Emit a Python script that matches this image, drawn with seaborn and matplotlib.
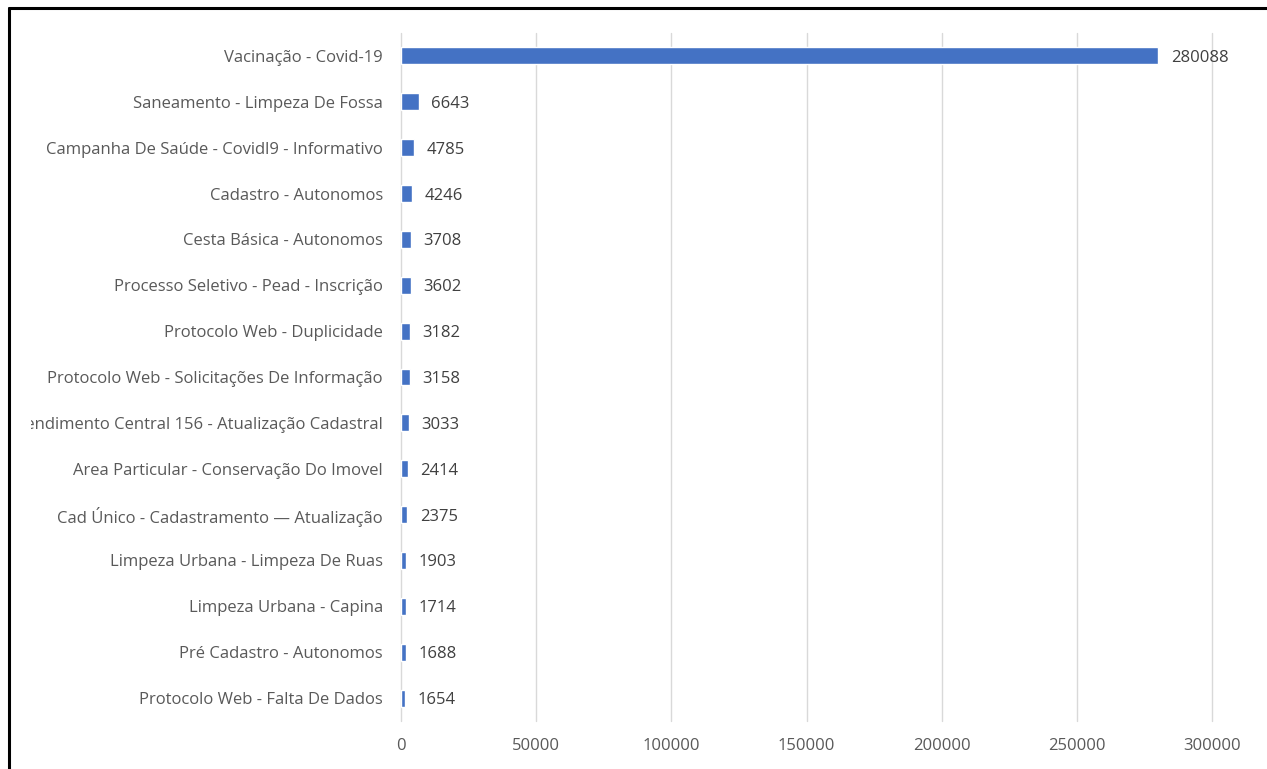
import numpy as np
import pandas as pd
import matplotlib.pyplot as plt
import seaborn as sns
from matplotlib.transforms import Bbox, TransformedBbox
from matplotlib.lines import Line2D

categorias = [
    "Vacinação - Covid-19",
    "Saneamento - Limpeza De Fossa",
    "Campanha De Saúde - Covidl9 - Informativo",
    "Cadastro - Autonomos",
    "Cesta Básica - Autonomos",
    "Processo Seletivo - Pead - Inscrição",
    "Protocolo Web - Duplicidade",
    "Protocolo Web - Solicitações De Informação",
    "Atendimento Central 156 - Atualização Cadastral",
    "Area Particular - Conservação Do Imovel",
    "Cad Único - Cadastramento — Atualização",
    "Limpeza Urbana - Limpeza De Ruas",
    "Limpeza Urbana - Capina",
    "Pré Cadastro - Autonomos",
    "Protocolo Web - Falta De Dados",
]
quantidades = [280088, 6643, 4785, 4246, 3708, 3602, 3182, 3158, 3033, 2414, 2375, 1903, 1714, 1688, 1654]
x_ticks = [0, 50000, 100000, 150000, 200000, 250000, 300000]

sns.set_style("white")
plt.rcParams['font.family'] = ['Open Sans', 'DejaVu Sans']

cinza = '#595959'
fig = plt.figure(figsize=(12.67, 7.69), dpi=100)
ax = fig.add_axes([401/1267, 1-721/769, (1212-401)/1267, (721-33)/769])

df = pd.DataFrame({'categoria': categorias, 'qtd': quantidades})
sns.barplot(data=df, x='qtd', y='categoria', orient='h', color='#4472C4',
            saturation=1, width=0.37, ax=ax)

ax.set_xlim(0, 300000)
ax.set_ylim(len(categorias) - 0.5, -0.5)
ax.set_xticks(x_ticks)
ax.set_xticklabels([str(t) for t in x_ticks])
ax.set_xlabel('')
ax.set_ylabel('')
ax.grid(axis='x', color='#D9D9D9', linewidth=1)
for gl in ax.get_xgridlines():
    gl.set_clip_on(False)
ax.set_axisbelow(True)
for s in ax.spines.values():
    s.set_visible(False)
ax.tick_params(axis='x', length=0, pad=12, labelsize=12, labelcolor=cinza)
ax.tick_params(axis='y', length=0, pad=13, labelsize=12, labelcolor=cinza)

lbls = ax.bar_label(ax.containers[0], labels=[str(v) for v in quantidades],
                    padding=9, fontsize=12, color='#404040')
for t in lbls:
    t.set_va('center_baseline')

# clip long labels like Excel does
clip = TransformedBbox(Bbox([[31/1267, 0], [1, 1]]), fig.transFigure)
for lbl in ax.get_yticklabels():
    lbl.set_clip_box(clip)
    lbl.set_clip_on(True)

# black border (top and left)
fig.add_artist(Line2D([9/1267, 1], [1-8/769, 1-8/769], color='black', lw=2.2, transform=fig.transFigure))
fig.add_artist(Line2D([9/1267, 9/1267], [0, 1-8/769], color='black', lw=2.2, transform=fig.transFigure))

fig.savefig('out.png', dpi=100)
